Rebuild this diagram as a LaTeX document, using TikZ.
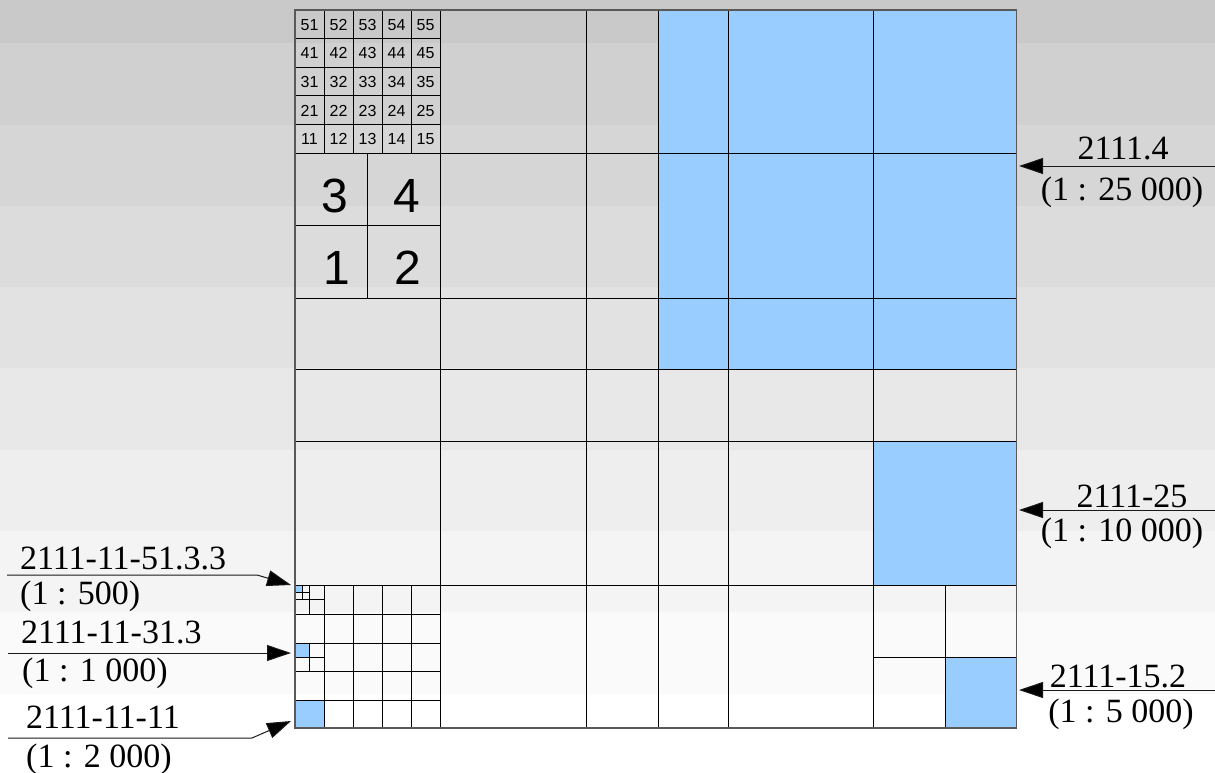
\documentclass[tikz,border=0pt]{standalone}
\usepackage{fontspec}
\setmainfont{Liberation Serif}
\newfontfamily\sansf{Liberation Sans}
\usetikzlibrary{arrows.meta}
\definecolor{blu}{RGB}{153,204,255}
\begin{document}
\begin{tikzpicture}[x=1pt,y=-1pt,
  gridline/.style={draw=black,line width=1pt},
  border/.style={draw=black!65,line width=1.6pt},
  bluecell/.style={fill=blu},
  arr/.style={draw=black!90,line width=1pt,-{Triangle[length=24pt,width=16pt,fill=black]}},
  lbl/.style={inner sep=0pt,font=\fontsize{34}{40}\selectfont},
  small/.style={inner sep=0pt,font=\sansf\fontsize{16}{19}\selectfont},
  big/.style={inner sep=0pt,font=\sansf\fontsize{48}{56}\selectfont}]
\useasboundingbox (0,0) rectangle (1215,773);
% background bands
\foreach \ya/\yb/\g in {0/43/201,43/125/208,125/206/214,206/287/220,287/368/226,368/450/232,450/531/238,531/612/244,612/694/250,694/773/255}{
  \definecolor{bandc}{RGB}{\g,\g,\g}
  \fill[bandc] (0,\ya) rectangle (1215,\yb);
}
% blue sheets
\fill[bluecell] (658,10) rectangle (1016.5,369);
\fill[bluecell] (873,441) rectangle (1016.5,585);
\fill[bluecell] (945,657) rectangle (1016.5,728);
\fill[bluecell] (295,700) rectangle (324,728);
\fill[bluecell] (295,643) rectangle (309.5,657);
\fill[bluecell] (295,585) rectangle (302,592);
% main grid
\foreach \x in {440,586,658,728,873}{\draw[gridline] (\x,10) -- (\x,728);}
\foreach \y in {153,298,369,441,585}{\draw[gridline] (295,\y) -- (1016.5,\y);}
% top-left cell subgrid
\foreach \x in {324,353,382,411}{\draw[gridline] (\x,10) -- (\x,153);}
\foreach \y in {38.6,67.2,95.8,124.4}{\draw[gridline] (295,\y) -- (440,\y);}
% quarters of cell 41
\draw[gridline] (367.5,153) -- (367.5,298);
\draw[gridline] (295,225.5) -- (440,225.5);
% quarters of cell 15
\draw[gridline] (945,585) -- (945,728);
\draw[gridline] (873,657) -- (1016.5,657);
% cell 11 subgrid
\foreach \x in {324,353,382,411}{\draw[gridline] (\x,585) -- (\x,728);}
\foreach \y in {614,643,671.5,700}{\draw[gridline] (295,\y) -- (440,\y);}
% cell 11-51 quarters and 51.3 quarters
\draw[gridline] (309.5,585) -- (309.5,614);
\draw[gridline] (295,599.5) -- (324,599.5);
\draw[gridline] (302,585) -- (302,599.5);
\draw[gridline] (295,592) -- (309.5,592);
% cell 11-31 quarters
\draw[gridline] (309.5,643) -- (309.5,671.5);
\draw[gridline] (295,657) -- (324,657);
% outer border
\draw[border] (295,10) rectangle (1016.5,728);
% small numbers
\foreach \r in {1,...,5}{
  \foreach \c in {1,...,5}{
    \node[small] (n\r\c) at ({295+(\c-0.5)*29},{153.5-(\r-0.5)*28.6}) {\r\c};
  }
}
% big quarter numbers
\node[big] (q3) at (335,195.5) {3};
\node[big] (q4) at (406.5,195.5) {4};
\node[big] (q1) at (337,267.5) {1};
\node[big] (q2) at (407.5,267.5) {2};
% right labels
\node[lbl,anchor=base] (r1a) at (1123,159) {2111.4};
\node[lbl,anchor=base] (r1b) at (1122,200) {(1 : 25 000)};
\node[lbl,anchor=base] (r2a) at (1132,507) {2111-25};
\node[lbl,anchor=base] (r2b) at (1122,541) {(1 : 10 000)};
\node[lbl,anchor=base] (r3a) at (1118,687) {2111-15.2};
\node[lbl,anchor=base] (r3b) at (1121,722) {(1 : 5 000)};
% left labels
\node[lbl,anchor=base west] (l1a) at (20,569) {2111-11-51.3.3};
\node[lbl,anchor=base west] (l1b) at (20,604) {(1 : 500)};
\node[lbl,anchor=base west] (l2a) at (21,643) {2111-11-31.3};
\node[lbl,anchor=base west] (l2b) at (22,681) {(1 : 1 000)};
\node[lbl,anchor=base west] (l3a) at (26,728) {2111-11-11};
\node[lbl,anchor=base west] (l3b) at (26,767) {(1 : 2 000)};
% arrow coordinates
\coordinate (s1) at (1215,166); \coordinate (t1) at (1019,166);
\coordinate (s2) at (1215,510); \coordinate (t2) at (1019,510);
\coordinate (s3) at (1215,690); \coordinate (t3) at (1019,690);
\coordinate (u1) at (7,575);   \coordinate (k1) at (257,575); \coordinate (v1) at (291,585);
\coordinate (u2) at (8,653);   \coordinate (v2) at (291,653);
\coordinate (u3) at (8,738);   \coordinate (k3) at (252,738); \coordinate (v3) at (291,721);
\draw[arr] (s1) -- (t1);
\draw[arr] (s2) -- (t2);
\draw[arr] (s3) -- (t3);
\draw[arr] (u1) -- (k1) -- (v1);
\draw[arr] (u2) -- (v2);
\draw[arr] (u3) -- (k3) -- (v3);
\end{tikzpicture}
\end{document}
